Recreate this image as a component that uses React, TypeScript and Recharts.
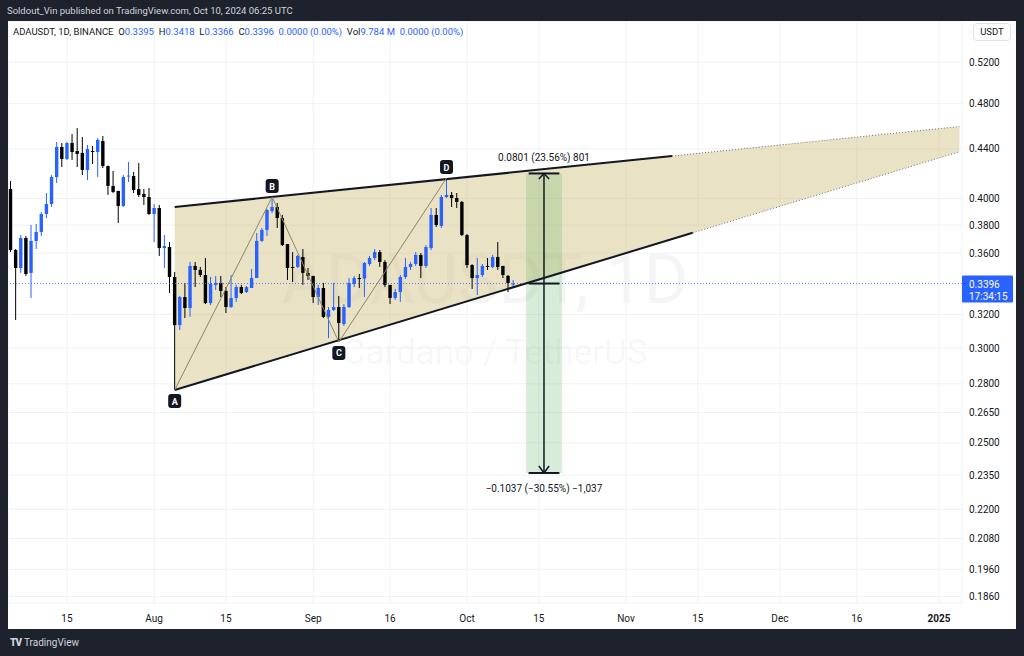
import React from 'react';
import {
  ComposedChart, Bar, Line, Area, XAxis, YAxis, CartesianGrid, ReferenceLine, ReferenceArea,
} from 'recharts';

// day index: 0 = 2024-07-15
const START_DAY = -11; // Jul 4
const END_DAY = 174;

const opens = [
  0.4073, 0.3622, 0.3499, 0.3707, 0.3466, 0.3686, 0.3750, 0.3882, 0.3957, 0.4168, 0.4416,
  0.4315, 0.4450, 0.4382, 0.4366, 0.4225, 0.4382, 0.4374, 0.4467, 0.4257, 0.4097, 0.4058,
  0.3942, 0.4172, 0.4176, 0.4073, 0.4034, 0.4011, 0.3882, 0.3927, 0.3636, 0.3643, 0.3439,
  0.3135, 0.3309, 0.3240, 0.3513, 0.3486, 0.3452, 0.3271, 0.3387, 0.3400, 0.3348, 0.3246,
  0.3303, 0.3373, 0.3341, 0.3367, 0.3432, 0.3686, 0.3765, 0.3904, 0.3935, 0.3852, 0.3664,
  0.3506, 0.3506, 0.3574, 0.3466, 0.3446, 0.3309, 0.3367, 0.3185, 0.3228, 0.3246, 0.3142,
  0.3246, 0.3393, 0.3432, 0.3429, 0.3526, 0.3567, 0.3608, 0.3540, 0.3387, 0.3303, 0.3341,
  0.3439, 0.3506, 0.3526, 0.3588, 0.3513, 0.3636, 0.3875, 0.3794, 0.4011, 0.4027, 0.4003,
  0.3973, 0.3728, 0.3519, 0.3432, 0.3452, 0.3513, 0.3506, 0.3574, 0.3513, 0.3446, 0.3395,
];
const highs = [
  0.4136, 0.3629, 0.3728, 0.3721, 0.3801, 0.3808, 0.3897, 0.4042, 0.4184, 0.4459, 0.4450,
  0.4459, 0.4528, 0.4580, 0.4502, 0.4433, 0.4424, 0.4493, 0.4510, 0.4262, 0.4217, 0.4060,
  0.4184, 0.4290, 0.4209, 0.4282, 0.4073, 0.4081, 0.3957, 0.3950, 0.3728, 0.3678, 0.3472,
  0.3316, 0.3400, 0.3540, 0.3540, 0.3506, 0.3567, 0.3439, 0.3446, 0.3446, 0.3373, 0.3452,
  0.3387, 0.3387, 0.3380, 0.3492, 0.3743, 0.3779, 0.3920, 0.4011, 0.3965, 0.3875, 0.3664,
  0.3608, 0.3588, 0.3629, 0.3499, 0.3446, 0.3387, 0.3400, 0.3246, 0.3400, 0.3316, 0.3265,
  0.3432, 0.3446, 0.3459, 0.3540, 0.3581, 0.3629, 0.3622, 0.3553, 0.3387, 0.3361, 0.3452,
  0.3567, 0.3540, 0.3608, 0.3601, 0.3657, 0.3927, 0.3927, 0.4027, 0.4160, 0.4050, 0.4042,
  0.3980, 0.3735, 0.3525, 0.3567, 0.3526, 0.3567, 0.3588, 0.3678, 0.3513, 0.3452, 0.3418,
];
const lows = [
  0.3608, 0.3166, 0.3466, 0.3446, 0.3303, 0.3629, 0.3721, 0.3852, 0.3935, 0.4120, 0.4249,
  0.4307, 0.4307, 0.4249, 0.4184, 0.4144, 0.4274, 0.4168, 0.4241, 0.4027, 0.4042, 0.3815,
  0.3935, 0.4128, 0.4042, 0.4011, 0.3950, 0.3875, 0.3678, 0.3581, 0.3499, 0.3335, 0.2767,
  0.3106, 0.3178, 0.3185, 0.3373, 0.3439, 0.3265, 0.3259, 0.3354, 0.3309, 0.3209, 0.3240,
  0.3278, 0.3328, 0.3335, 0.3367, 0.3432, 0.3678, 0.3721, 0.3889, 0.3779, 0.3650, 0.3419,
  0.3406, 0.3499, 0.3387, 0.3419, 0.3271, 0.3259, 0.3178, 0.3058, 0.3221, 0.3035, 0.3130,
  0.3240, 0.3373, 0.3367, 0.3309, 0.3513, 0.3553, 0.3506, 0.3373, 0.3265, 0.3290, 0.3278,
  0.3426, 0.3486, 0.3513, 0.3432, 0.3499, 0.3622, 0.3786, 0.3779, 0.4003, 0.3935, 0.3927,
  0.3721, 0.3499, 0.3361, 0.3322, 0.3439, 0.3486, 0.3499, 0.3486, 0.3432, 0.3341, 0.3366,
];
const closes = [
  0.3622, 0.3499, 0.3707, 0.3459, 0.3686, 0.3750, 0.3882, 0.3957, 0.4168, 0.4416, 0.4315,
  0.4450, 0.4374, 0.4357, 0.4225, 0.4399, 0.4374, 0.4476, 0.4257, 0.4097, 0.4050, 0.3942,
  0.4168, 0.4180, 0.4065, 0.4027, 0.4011, 0.3882, 0.3927, 0.3636, 0.3650, 0.3439, 0.3135,
  0.3309, 0.3240, 0.3513, 0.3486, 0.3452, 0.3271, 0.3393, 0.3400, 0.3348, 0.3246, 0.3303,
  0.3373, 0.3335, 0.3373, 0.3432, 0.3686, 0.3765, 0.3912, 0.3935, 0.3852, 0.3657, 0.3499,
  0.3502, 0.3581, 0.3466, 0.3446, 0.3309, 0.3367, 0.3185, 0.3228, 0.3246, 0.3148, 0.3246,
  0.3400, 0.3432, 0.3429, 0.3533, 0.3567, 0.3608, 0.3540, 0.3387, 0.3303, 0.3341, 0.3439,
  0.3506, 0.3526, 0.3588, 0.3513, 0.3643, 0.3875, 0.3801, 0.4011, 0.4027, 0.4003, 0.3973,
  0.3728, 0.3519, 0.3432, 0.3452, 0.3513, 0.3506, 0.3574, 0.3506, 0.3452, 0.3400, 0.3396,
];

const upperSolid = [{ d: 21, v: 0.3935 }, { d: 118, v: 0.4340 }];
const upperDotted = [{ d: 118, v: 0.4340 }, { d: 174, v: 0.4593 }];
const lowerSolid = [{ d: 21, v: 0.2767 }, { d: 122, v: 0.3744 }];
const lowerDotted = [{ d: 122, v: 0.3744 }, { d: 174, v: 0.4376 }];
const pivots = [
  { d: 21, v: 0.2767, name: 'A', below: true },
  { d: 40, v: 0.4011, name: 'B', below: false },
  { d: 53, v: 0.3035, name: 'C', below: true },
  { d: 74, v: 0.4160, name: 'D', below: false },
];

const lastPrice = 0.3396;
const targetUp = 0.4197;
const targetDown = 0.2359;
const chevronUp = 0.4152;
const chevronDown = 0.2391;
const measureFrom = 90;
const measureTo = 96;
const measureMid = 93;
const upText = '0.0801 (23.56%) 801';
const downText = '\u22120.1037 (\u221230.55%) \u22121,037';

const xTickDays = [0, 17, 31, 48, 63, 78, 92, 109, 123, 139, 154, 170];
const xTickLabels = ['15', 'Aug', '15', 'Sep', '16', 'Oct', '15', 'Nov', '15', 'Dec', '16', '2025'];
const yTicks = [0.52, 0.48, 0.44, 0.40, 0.38, 0.36, 0.32, 0.30, 0.28, 0.265, 0.25, 0.235, 0.22, 0.208, 0.196, 0.186];

const rows: any[] = [];
for (let d = START_DAY; d <= END_DAY; d++) {
  const i = d - START_DAY;
  const row: any = { d };
  if (i < opens.length) {
    row.o = opens[i]; row.h = highs[i]; row.l = lows[i]; row.c = closes[i];
  }
  rows.push(row);
}
const byDay = (d: number) => rows[d - START_DAY];
upperSolid.forEach((p) => { byDay(p.d).us = p.v; });
upperDotted.forEach((p) => { byDay(p.d).ud = p.v; });
lowerSolid.forEach((p) => { byDay(p.d).ls = p.v; });
lowerDotted.forEach((p) => { byDay(p.d).ld = p.v; });
pivots.forEach((p) => { const r = byDay(p.d); r.zig = p.v; r.pivName = p.name; r.pivBelow = p.below; });
[21, 174].forEach((d) => {
  const lo = [...lowerSolid, ...lowerDotted].find((p) => p.d === d)!.v;
  const hi = [...upperSolid, ...upperDotted].find((p) => p.d === d)!.v;
  byDay(d).band = [lo, hi];
});

const Candle = (props: any) => {
  let { x, y, width, height, payload } = props;
  if (!payload || payload.o == null || !isFinite(y) || !isFinite(height)) return <g />;
  if (height < 0) { y += height; height = -height; }
  const { o, h, l, c } = payload;
  const lh = Math.log(h);
  const span = lh - Math.log(l) || 1e-9;
  const yAt = (v: number) => y + (height * (lh - Math.log(v))) / span;
  const up = c >= o;
  const color = up ? '#2962ff' : '#000000';
  const cx = x + width / 2;
  const top = yAt(Math.max(o, c));
  const bot = yAt(Math.min(o, c));
  const bw = 3.4;
  return (
    <g>
      <line x1={cx} x2={cx} y1={y} y2={y + height} stroke={color} strokeWidth={1} />
      <rect x={cx - bw / 2} y={top} width={bw} height={Math.max(1, bot - top)} fill={color} />
    </g>
  );
};

const PivotDot = (props: any) => {
  const { cx, cy, payload, index } = props;
  if (!payload || !payload.pivName || cy == null || !isFinite(cy)) return <g key={`p${index}`} />;
  const top = payload.pivBelow ? cy + 4 : cy - 18;
  return (
    <g key={`p${index}`}>
      <rect x={cx - 6.5} y={top} width={13} height={14} rx={3} fill="#131722" />
      <text x={cx} y={top + 7.5} textAnchor="middle" dominantBaseline="central" fill="#ffffff" fontSize={9} fontWeight={700}>
        {payload.pivName}
      </text>
    </g>
  );
};

const XTick = (props: any) => {
  const { x, y, payload } = props;
  const idx = xTickDays.indexOf(payload.value);
  const label = idx >= 0 ? xTickLabels[idx] : '';
  return (
    <text x={x} y={y + 13} textAnchor="middle" dominantBaseline="central" fill="#131722" fontSize={10}
      fontWeight={label === '2025' ? 700 : 400}>
      {label}
    </text>
  );
};

const PriceTag = (props: any) => {
  const vb = props.viewBox || {};
  const x0 = vb.x + vb.width;
  const yc = vb.y;
  return (
    <g>
      <rect x={x0} y={yc - 8} width={51} height={27} fill="#2962ff" rx={1} />
      <text x={x0 + 7} y={yc + 1} dominantBaseline="central" fill="#ffffff" fontSize={10}>0.3396</text>
      <text x={x0 + 7} y={yc + 13} dominantBaseline="central" fill="#ffffff" fontSize={10}>17:34:15</text>
    </g>
  );
};

const blue = { color: '#2962ff' };

export default function App() {
  return (
    <div style={{ position: 'absolute', left: 0, top: 0, width: 1024, height: 656, background: '#1e222d', overflow: 'hidden', fontFamily: 'Roboto, "Noto Sans", sans-serif' }}>
      <div style={{ position: 'absolute', left: 7, top: 0, height: 21, lineHeight: '21px', color: '#d1d4dc', fontSize: 9.5, whiteSpace: 'nowrap' }}>
        Soldout_Vin published on TradingView.com, Oct 10, 2024 06:25 UTC
      </div>
      <div style={{ position: 'absolute', left: 8, top: 21, width: 1008, height: 608, background: '#ffffff', overflow: 'hidden' }}>
        <div style={{ position: 'absolute', left: 0, top: 225, width: 954, textAlign: 'center', fontSize: 68, lineHeight: '68px', color: 'rgba(19,23,34,0.045)', whiteSpace: 'nowrap' }}>
          ADAUSDT, 1D
        </div>
        <div style={{ position: 'absolute', left: 10, top: 314, width: 954, textAlign: 'center', fontSize: 35, lineHeight: '36px', color: 'rgba(19,23,34,0.045)', whiteSpace: 'nowrap' }}>
          Cardano / TetherUS
        </div>
        <div style={{ position: 'absolute', left: 0, top: 0 }}>
          <ComposedChart width={1008} height={608} data={rows} margin={{ top: 0, right: 0, bottom: 0, left: 0 }}>
            <CartesianGrid stroke="#eef1f6" />
            <XAxis dataKey="d" type="category" ticks={xTickDays} interval={0} height={26} axisLine={false} tickLine={false} tickSize={0} tick={<XTick />} />
            <YAxis orientation="right" scale="log" domain={[0.1837, 0.5627]} allowDataOverflow ticks={yTicks} interval={0}
              width={54} axisLine={false} tickLine={false} tickSize={0} tickMargin={7}
              tick={{ fill: '#131722', fontSize: 10 }} tickFormatter={(v: number) => v.toFixed(4)} />
            <Area dataKey="band" stroke="none" fill="#cdb974" fillOpacity={0.42} connectNulls isAnimationActive={false} />
            <ReferenceArea x1={measureFrom} x2={measureTo} y1={lastPrice} y2={targetUp} fill="#4caf50" fillOpacity={0.22} stroke="none" />
            <ReferenceArea x1={measureFrom} x2={measureTo} y1={targetDown} y2={lastPrice} fill="#4caf50" fillOpacity={0.22} stroke="none" />
            <ReferenceLine y={lastPrice} stroke="#2962ff" strokeOpacity={0.8} strokeDasharray="1 2" strokeWidth={1} label={<PriceTag />} />
            <Bar dataKey={(r: any) => (r.o != null ? [r.l, r.h] : null)} shape={<Candle />} isAnimationActive={false} />
            <Line dataKey="us" stroke="#131722" strokeWidth={2} dot={false} connectNulls isAnimationActive={false} />
            <Line dataKey="ls" stroke="#131722" strokeWidth={2} dot={false} connectNulls isAnimationActive={false} />
            <Line dataKey="ud" stroke="#6a6f7a" strokeWidth={1} strokeDasharray="1 2" dot={false} connectNulls isAnimationActive={false} />
            <Line dataKey="ld" stroke="#6a6f7a" strokeWidth={1} strokeDasharray="1 2" dot={false} connectNulls isAnimationActive={false} />
            <Line dataKey="zig" stroke="#8f8468" strokeWidth={1} dot={PivotDot} activeDot={false} connectNulls isAnimationActive={false} />
            <ReferenceLine segment={[{ x: measureMid, y: targetUp }, { x: measureMid, y: targetDown }]} stroke="#131722" strokeWidth={1.5} />
            <ReferenceLine segment={[{ x: measureFrom, y: targetUp }, { x: measureTo, y: targetUp }]} stroke="#131722" strokeWidth={2}
              label={{ value: upText, position: 'top', offset: 12, fill: '#131722', fontSize: 10 }} />
            <ReferenceLine segment={[{ x: measureFrom, y: lastPrice }, { x: measureTo, y: lastPrice }]} stroke="#131722" strokeWidth={2} />
            <ReferenceLine segment={[{ x: measureFrom, y: targetDown }, { x: measureTo, y: targetDown }]} stroke="#131722" strokeWidth={2}
              label={{ value: downText, position: 'bottom', offset: 12, fill: '#131722', fontSize: 10 }} />
            <ReferenceLine segment={[{ x: measureMid - 1, y: chevronUp }, { x: measureMid, y: targetUp }]} stroke="#131722" strokeWidth={1.5} />
            <ReferenceLine segment={[{ x: measureMid + 1, y: chevronUp }, { x: measureMid, y: targetUp }]} stroke="#131722" strokeWidth={1.5} />
            <ReferenceLine segment={[{ x: measureMid - 1, y: chevronDown }, { x: measureMid, y: targetDown }]} stroke="#131722" strokeWidth={1.5} />
            <ReferenceLine segment={[{ x: measureMid + 1, y: chevronDown }, { x: measureMid, y: targetDown }]} stroke="#131722" strokeWidth={1.5} />
          </ComposedChart>
        </div>
        <div style={{ position: 'absolute', left: 5, top: 5, fontSize: 9.5, lineHeight: '12px', color: '#131722', whiteSpace: 'nowrap' }}>
          ADAUSDT, 1D, BINANCE&nbsp;&nbsp;O<span style={blue}>0.3395</span>&nbsp;&nbsp;H<span style={blue}>0.3418</span>&nbsp;&nbsp;L<span style={blue}>0.3366</span>&nbsp;&nbsp;C<span style={blue}>0.3396</span>&nbsp;&nbsp;<span style={blue}>0.0000 (0.00%)</span>&nbsp;&nbsp;Vol<span style={blue}>9.784 M</span>&nbsp;&nbsp;<span style={blue}>0.0000 (0.00%)</span>
        </div>
        <div style={{ position: 'absolute', left: 965, top: 2, width: 38, height: 18, border: '1px solid #e0e3eb', borderRadius: 4, boxSizing: 'border-box', fontSize: 9.5, lineHeight: '16px', textAlign: 'center', color: '#131722' }}>
          USDT
        </div>
      </div>
      <div style={{ position: 'absolute', left: 10, top: 636, height: 14, lineHeight: '14px', color: '#d1d4dc', fontSize: 10, whiteSpace: 'nowrap' }}>
        <span style={{ fontWeight: 900, letterSpacing: -1, marginRight: 3 }}>TV</span>TradingView
      </div>
    </div>
  );
}
